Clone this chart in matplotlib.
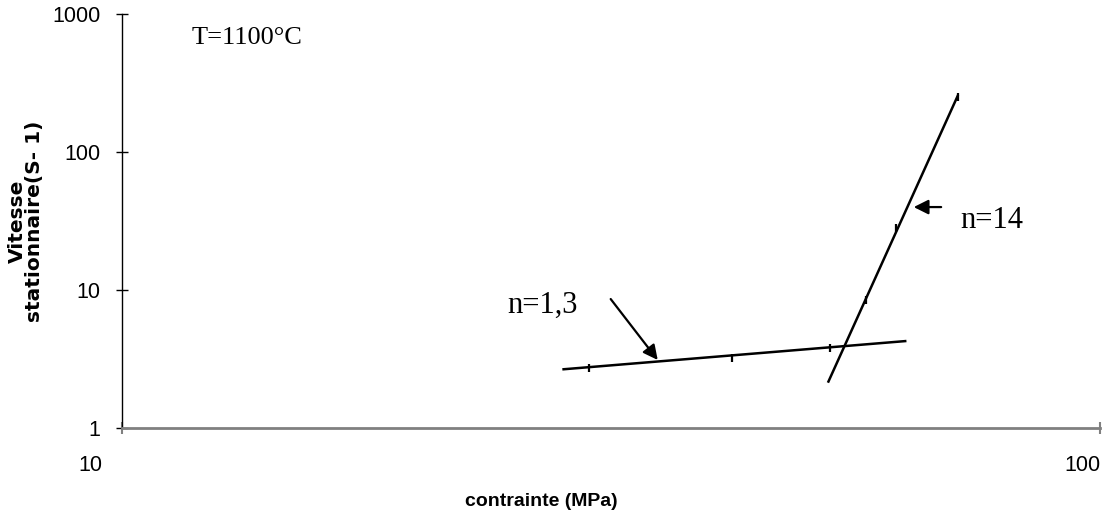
import matplotlib
matplotlib.use("Agg")
from matplotlib import pyplot as plt
from matplotlib.transforms import ScaledTranslation

# measured points (contrainte MPa, vitesse s-1)
pts1_x = [30, 42, 53]
pts1_y = [2.7, 3.2, 3.8]
pts2_x = [57.6, 61.8, 71.6]
pts2_y = [8.4, 28, 252]

# trend lines drawn through them
fit1_x = [28.2, 63.4]
fit1_y = [2.66, 4.27]
fit2_x = [52.7, 71.6]
fit2_y = [2.13, 259]

xticks = [10, 100]
yticks = [1, 10, 100, 1000]

fig = plt.figure(figsize=(11.1, 5.18), dpi=100)
ax = fig.add_axes([122 / 1110, 90 / 518, 978 / 1110, 414 / 518])
ax.set_xscale("log")
ax.set_yscale("log")
ax.set_xlim(10, 100)
ax.set_ylim(1, 1000)

ax.plot(fit1_x, fit1_y, color="black", lw=1.8, solid_capstyle="butt")
ax.plot(fit2_x, fit2_y, color="black", lw=1.8, solid_capstyle="butt")
ax.plot(pts1_x, pts1_y, ls="none", marker="|", ms=6, mew=1.6, color="black")
ax.plot(pts2_x, pts2_y, ls="none", marker="|", ms=6, mew=1.6, color="black")

arrow = dict(arrowstyle="-|>", mutation_scale=22, lw=1.6, color="black",
             shrinkA=0, shrinkB=0)
ax.annotate("", xy=(35.3, 3.11), xytext=(31.6, 8.6), arrowprops=arrow)
ax.annotate("", xy=(64.5, 39.9), xytext=(68.8, 39.9), arrowprops=arrow)

serif = "Liberation Serif"
ax.text(0.0716, 0.9275, "T=1100°C", transform=ax.transAxes, family=serif,
        fontsize=19, va="baseline")
ax.text(0.3937, 0.2778, "n=1,3", transform=ax.transAxes, family=serif,
        fontsize=22, va="baseline")
ax.text(0.8569, 0.4831, "n=14", transform=ax.transAxes, family=serif,
        fontsize=22, va="baseline")

for s in ["top", "right"]:
    ax.spines[s].set_visible(False)
ax.spines["left"].set_linewidth(1.0)
ax.spines["bottom"].set_color("#808080")
ax.spines["bottom"].set_linewidth(2.0)

ax.set_xticks(xticks)
ax.set_xticklabels([str(v) for v in xticks])
ax.set_yticks(yticks)
ax.set_yticklabels([str(v) for v in yticks])
ax.minorticks_off()
ax.tick_params(axis="y", direction="inout", length=9, width=1, pad=11,
               labelsize=15.5, labelfontfamily="Liberation Sans")
ax.tick_params(axis="x", direction="inout", length=9, width=1.5, color="#808080",
               pad=15, labelsize=15.5, labelfontfamily="Liberation Sans")
shifts = [-32, -18]
for lab, dx in zip(ax.get_xticklabels(), shifts):
    lab.set_transform(lab.get_transform() + ScaledTranslation(dx / 100, 0, fig.dpi_scale_trans))

fig.text(541 / 1110, 1 - 501 / 518, "contrainte (MPa)", family="Liberation Sans",
         weight="bold", fontsize=14, ha="center", va="center")
fig.text(26 / 1110, 1 - 221 / 518, "Vitesse\nstationnaire(S- 1)", family="DejaVu Sans",
         weight="bold", fontsize=14.5, rotation=90, ha="center", va="center",
         multialignment="center", linespacing=0.9)

fig.savefig("out.png", dpi=100)
